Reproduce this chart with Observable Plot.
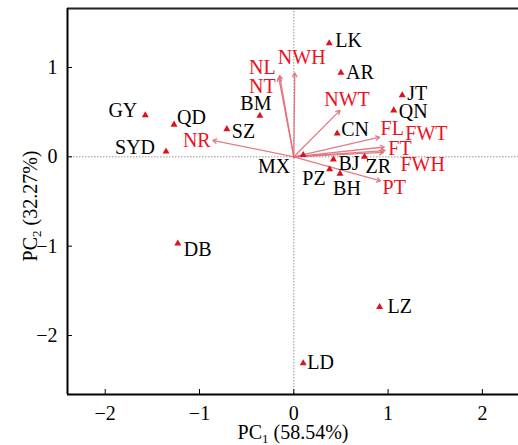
<!DOCTYPE html>
<html><head><meta charset="utf-8">
<script src="https://cdn.jsdelivr.net/npm/d3@7"></script>
<script src="https://cdn.jsdelivr.net/npm/@observablehq/plot@0.6"></script>
<style>body{margin:0;background:#fff} svg{font-family:"Liberation Serif",serif}</style>
</head><body><div id="chart"></div>
<script>
// Sample scores (triangles)
const sampleNames = ["LK","AR","JT","QN","CN","BJ","ZR","PZ","BH","MX","GY","QD","SYD","SZ","BM","DB","LZ","LD"];
const samplePC1 = [0.376,0.50,1.15,1.06,0.46,0.42,0.75,0.38,0.49,0.10,-1.575,-1.27,-1.355,-0.71,-0.36,-1.23,0.91,0.10];
const samplePC2 = [1.27,0.94,0.69,0.52,0.26,-0.03,0.00,-0.14,-0.19,0.02,0.465,0.36,0.06,0.31,0.46,-0.97,-1.68,-2.31];
// Variable loadings (arrows)
const varNames = ["NL","NT","NWH","NWT","FL","FWT","FT","FWH","PT","NR"];
const varPC1 = [-0.15,-0.16,0.01,0.49,0.91,0.96,0.97,0.95,0.92,-0.86];
const varPC2 = [0.91,0.89,0.94,0.52,0.22,0.11,0.07,0.05,-0.27,0.185];
// Axes
const xTicks = [-2,-1,0,1,2];
const yTicks = [-2,-1,0,1];
const xDomain = [-2.4, 2.383];
const yDomain = [-2.66, 1.66];
const xTitle = ["PC","1"," (58.54%)"];
const yTitle = ["PC","2"," (32.27%)"];

// label placement (pixel offsets, anchor)
const samplePlace = {
  LK:[6,-3,"start"], AR:[5,0,"start"], JT:[5,-2,"start"], QN:[5,1,"start"], CN:[4,-4,"start"],
  BJ:[5,4,"start"], ZR:[1,10,"start"], PZ:[-4,9,"end"], BH:[7,15,"middle"], MX:[-13,12,"end"],
  GY:[-8,-5,"end"], QD:[3,-7,"start"], SYD:[-11,-4,"end"], SZ:[5,2,"start"], BM:[-4,-12,"middle"],
  DB:[6,6,"start"], LZ:[8,0,"start"], LD:[4,-1,"start"]
};
const varPlace = {
  NL:[-4,-8,"end"], NT:[-3,9,"end"], NWH:[7,-15,"middle"], NWT:[7,-11,"middle"], FL:[1,-9,"start"],
  FWT:[21,-13,"start"], FT:[3,-2,"start"], FWH:[17,12,"start"], PT:[2,7,"start"], NR:[-2,0,"end"]
};

const samples = sampleNames.map((n,i)=>({name:n, pc1:samplePC1[i], pc2:samplePC2[i]}));
const vars = varNames.map((n,i)=>({name:n, pc1:varPC1[i], pc2:varPC2[i]}));

const RED = "#ee1122";
const FS = 20;
const fmt = d => d < 0 ? "\u2212" + Math.abs(d) : String(d);

const plot = Plot.plot({
  width: 518, height: 445,
  marginLeft: 67, marginRight: 0, marginTop: 8, marginBottom: 51,
  x: {domain: xDomain, label: null},
  y: {domain: yDomain, label: null},
  style: {fontFamily: "Liberation Serif", fontSize: FS+"px", background: "white"},
  marks: [
    Plot.ruleX([0], {stroke: "#b8b8b8", strokeWidth: 1.5, strokeDasharray: "1.5,1.5"}),
    Plot.ruleY([0], {stroke: "#b8b8b8", strokeWidth: 1.5, strokeDasharray: "1.5,1.5"}),
    Plot.axisX(xTicks, {tickSize: -5, tickPadding: 16, fontSize: FS, tickFormat: fmt}),
    Plot.axisY(yTicks, {tickSize: -5, tickPadding: 15, fontSize: FS, tickFormat: fmt}),
    Plot.ruleY([yDomain[1]], {stroke: "#222", strokeWidth: 2}),
    Plot.ruleY([yDomain[0]], {stroke: "#000", strokeWidth: 2}),
    Plot.ruleX([xDomain[0]], {stroke: "#000", strokeWidth: 2}),
    Plot.arrow(vars, {x1: 0, y1: 0, x2: "pc1", y2: "pc2", stroke: "#e36a78", strokeWidth: 1.3, headLength: 5, strokeOpacity: 0.9}),
    Plot.dot(samples, {x: "pc1", y: "pc2", symbol: "triangle", r: 2.6, fill: "#e0101e", stroke: null}),
    ...samples.map(d => Plot.text([d], {x: "pc1", y: "pc2", text: "name", fill: "#000", fontSize: FS,
      dx: samplePlace[d.name][0], dy: samplePlace[d.name][1], textAnchor: samplePlace[d.name][2]})),
    ...vars.map(d => Plot.text([d], {x: "pc1", y: "pc2", text: "name", fill: RED, fontSize: FS,
      dx: varPlace[d.name][0], dy: varPlace[d.name][1], textAnchor: varPlace[d.name][2]}))
  ]
});

const svg = d3.select(plot);
function addTitle(parts, transform) {
  const t = svg.append("text").attr("transform", transform).attr("text-anchor", "middle")
    .attr("font-size", FS).attr("fill", "#000").attr("font-family", "Liberation Serif");
  t.append("tspan").text(parts[0]);
  t.append("tspan").attr("font-size", 13).attr("dy", 4).text(parts[1]);
  t.append("tspan").attr("dy", -4).text(parts[2]);
}
addTitle(xTitle, "translate(293,439)");
addTitle(yTitle, "translate(37,206) rotate(-90)");

document.getElementById("chart").appendChild(plot);
</script>
</body></html>
